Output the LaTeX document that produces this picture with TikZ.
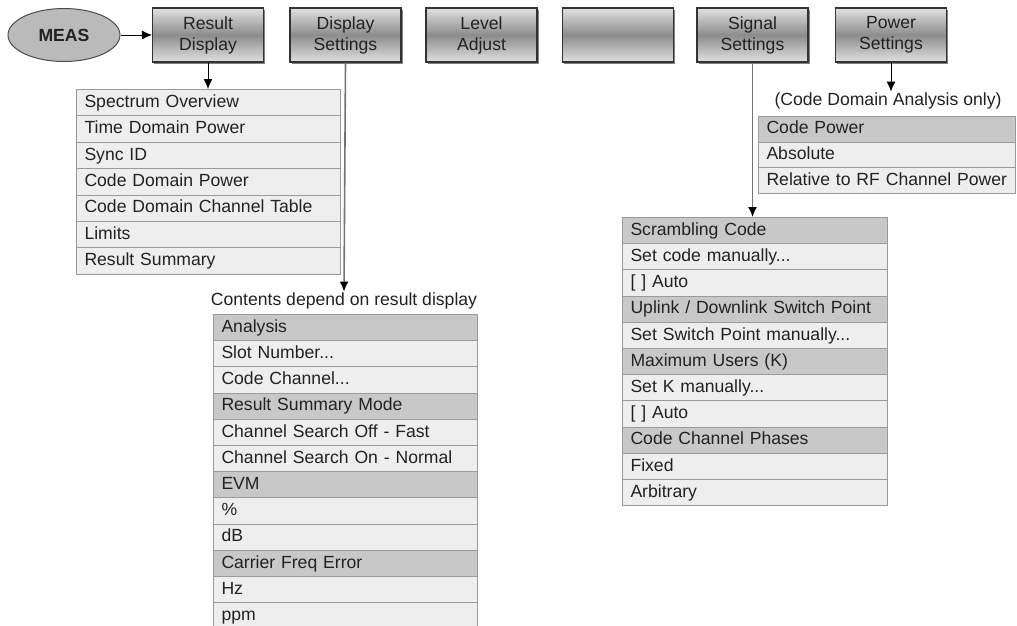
\documentclass[tikz,border=0pt]{standalone}
\usepackage{fontspec}
\setmainfont{Liberation Sans}
\usetikzlibrary{arrows.meta,shapes.geometric,shadows}
\definecolor{rowlight}{HTML}{EEEEEE}
\definecolor{rowhead}{HTML}{C8C8C8}
\definecolor{rowline}{HTML}{9A9A9A}
\definecolor{txt}{HTML}{222222}
\begin{document}
\begin{tikzpicture}[x=1pt,y=-1pt,
  base/.style={font=\fontsize{17.6}{21}\selectfont, text=txt},
  menubtn/.style={base, draw=black!80, line width=1.1pt, minimum width=111pt, minimum height=54pt,
    inner sep=0pt, align=center, top color=black!12, bottom color=black!12, middle color=black!45,
    drop shadow={shadow xshift=1.6pt, shadow yshift=-1.6pt, opacity=0.7, fill=black!70}},
  measell/.style={ellipse, draw=black!70, line width=1pt, fill=black!27, minimum width=112pt,
    minimum height=53pt, inner sep=0pt, font=\fontsize{17.6}{21}\selectfont\bfseries, text=txt},
  itm/.style={base, draw=rowline, line width=1pt, fill=rowlight, anchor=north west,
    inner xsep=8pt, inner ysep=0pt, align=left, text height=12.8pt, text depth=3.6pt},
  hdr/.style={itm, fill=rowhead},
  lbl/.style={base, inner sep=1pt},
  blackarrow/.style={-{Latex[length=10pt,width=9pt]}, line width=1pt, black},
  greyarrow/.style={-{Latex[length=10pt,width=9pt,color=black]}, line width=1.6pt, black!55},
]
\useasboundingbox (0,0) rectangle (1017,625);

% MEAS and menu buttons
\node[measell] (meas) at (64,35) {MEAS};
\node[menubtn] (rd) at (208,35) {Result\vphantom{g}\\Display};
\node[menubtn] (ds) at (345.5,35) {Display\\Settings};
\node[menubtn] (la) at (481.5,35) {Level\vphantom{g}\\Adjust};
\node[menubtn] (bl) at (618,35) {};
\node[menubtn] (ss) at (752.5,35) {Signal\\Settings};
\node[menubtn] (ps) at (891,35) {Power\vphantom{g}\\Settings};

% Result display list
\foreach \s/\t [count=\i] in {itm/{Spectrum Overview}, itm/{Time Domain Power}, itm/{Sync ID},
    itm/{Code Domain Power}, itm/{Code Domain Channel Table}, itm/{Limits}, itm/{Result Summary}}{
  \node[\s, minimum width=264pt, minimum height=26.4pt, text width=248pt] (la\i) at (76,{89+(\i-1)*26.4}) {\mbox{\t}};
}

% Display settings list
\node[lbl] (dlabel) at (344,301) {Contents depend on result display};
\foreach \s/\t [count=\i] in {hdr/{Analysis}, itm/{Slot Number...}, itm/{Code Channel...},
    hdr/{Result Summary Mode}, itm/{Channel Search Off - Fast}, itm/{Channel Search On - Normal},
    hdr/{EVM}, itm/{\%}, itm/{dB}, hdr/{Carrier Freq Error}, itm/{Hz}, itm/{ppm}}{
  \node[\s, minimum width=264pt, minimum height=26.2pt, text width=248pt] (lb\i) at (213,{314+(\i-1)*26.2}) {\mbox{\t}};
}

% Signal settings list
\foreach \s/\t [count=\i] in {hdr/{Scrambling Code}, itm/{Set code manually...}, itm/{[ ] Auto},
    hdr/{Uplink / Downlink Switch Point}, itm/{Set Switch Point manually...}, hdr/{Maximum Users (K)},
    itm/{Set K manually...}, itm/{[ ] Auto}, hdr/{Code Channel Phases}, itm/{Fixed}, itm/{Arbitrary}}{
  \node[\s, minimum width=265pt, minimum height=26.2pt, text width=249pt] (lc\i) at (622,{217+(\i-1)*26.2}) {\mbox{\t}};
}

% Power settings list
\node[lbl] (plabel) at (888,101) {(Code Domain Analysis only)};
\foreach \s/\t [count=\i] in {hdr/{Code Power}, itm/{Absolute}, itm/{Relative to RF Channel Power}}{
  \node[\s, minimum width=257pt, minimum height=25.7pt, text width=241pt] (ld\i) at (758,{116+(\i-1)*25.7}) {\mbox{\t}};
}

% connectors
\draw[blackarrow] (meas.east) -- (rd.west);
\draw[blackarrow] (rd.south) -- (rd.south |- la1.north);
\draw[greyarrow] (ds.south) -- (dlabel.north);
\draw[greyarrow] (ss.south) -- (ss.south |- lc1.north);
\draw[blackarrow] (ps.south) -- (ps.south |- plabel.north);
\end{tikzpicture}
\end{document}
